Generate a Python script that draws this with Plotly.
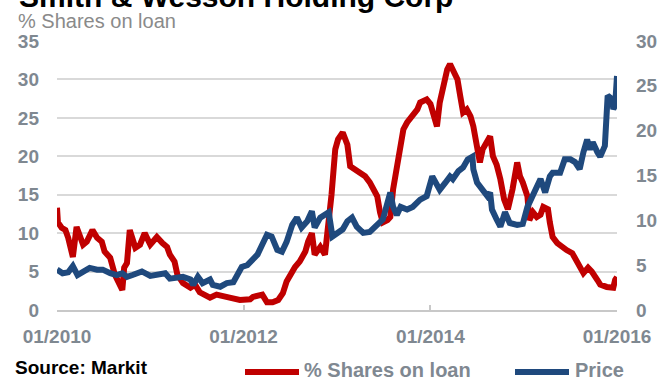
import plotly.graph_objects as go
import pandas as pd

# ---- data ----
loan_t = [2010.00, 2010.01, 2010.05, 2010.09, 2010.12, 2010.17, 2010.21, 2010.25, 2010.28, 2010.32,
          2010.38, 2010.43, 2010.48, 2010.51, 2010.57, 2010.62, 2010.65, 2010.70, 2010.72, 2010.75,
          2010.78, 2010.84, 2010.89, 2010.94, 2011.00, 2011.07, 2011.13, 2011.18, 2011.21, 2011.26,
          2011.29, 2011.35, 2011.43, 2011.48, 2011.53, 2011.64, 2011.71, 2011.78, 2011.85, 2011.96,
          2012.07, 2012.10, 2012.20, 2012.25, 2012.31, 2012.37, 2012.42, 2012.46, 2012.50, 2012.55,
          2012.60, 2012.66, 2012.69, 2012.73, 2012.76, 2012.82, 2012.87, 2012.90, 2012.94, 2012.98,
          2013.01, 2013.06, 2013.11, 2013.14, 2013.19, 2013.25, 2013.30, 2013.35, 2013.43, 2013.46,
          2013.49, 2013.54, 2013.57, 2013.60, 2013.64, 2013.68, 2013.71, 2013.75, 2013.81, 2013.86,
          2013.89, 2013.96, 2014.00, 2014.03, 2014.07, 2014.10, 2014.15, 2014.18, 2014.21, 2014.24,
          2014.29, 2014.32, 2014.35, 2014.39, 2014.43, 2014.46, 2014.50, 2014.53, 2014.56, 2014.61,
          2014.64, 2014.67, 2014.71, 2014.75, 2014.79, 2014.83, 2014.88, 2014.93, 2014.96, 2014.99,
          2015.04, 2015.06, 2015.10, 2015.14, 2015.18, 2015.21, 2015.26, 2015.28, 2015.31, 2015.36,
          2015.41, 2015.46, 2015.52, 2015.55, 2015.60, 2015.64, 2015.69, 2015.73, 2015.79, 2015.82,
          2015.89, 2015.96, 2015.98, 2016.00]
loan_pct = [13.3, 11.4, 10.7, 10.4, 9.4, 6.9, 10.8, 9.4, 8.5, 8.9,
            10.4, 9.4, 8.9, 7.6, 6.8, 4.6, 3.7, 2.6, 5.5, 6.1,
            10.4, 8.1, 8.5, 10.0, 8.5, 9.5, 8.7, 8.2, 7.2, 6.3,
            4.6, 3.5, 2.9, 3.3, 2.3, 1.6, 2.0, 1.7, 1.6, 1.3,
            1.4, 1.7, 2.0, 1.0, 1.0, 1.3, 2.2, 3.7, 4.6, 5.6,
            6.3, 7.6, 8.9, 10.0, 7.2, 8.2, 7.2, 10.2, 15.0, 20.9,
            22.2, 23.1, 21.5, 18.7, 18.3, 18.0, 17.4, 16.6, 14.8, 12.7,
            11.4, 11.7, 12.1, 15.7, 18.9, 21.8, 23.5, 24.4, 25.2, 26.1,
            27.0, 27.4, 26.8, 25.7, 23.9, 27.0, 29.8, 31.3, 32.0, 31.3,
            30.0, 27.8, 25.7, 26.1, 25.2, 23.9, 21.3, 19.2, 20.9, 22.2,
            22.6, 20.0, 18.9, 17.0, 14.4, 13.1, 15.7, 19.2, 17.4, 16.6,
            14.8, 11.7, 12.7, 12.1, 12.4, 13.4, 13.1, 11.4, 9.5, 8.7,
            8.2, 7.8, 7.4, 6.8, 5.6, 4.8, 5.5, 5.0, 3.9, 3.3,
            3.0, 2.9, 3.9, 4.3]

price_t = [2010.00, 2010.06, 2010.12, 2010.17, 2010.22, 2010.28, 2010.35, 2010.43, 2010.49, 2010.57,
           2010.64, 2010.70, 2010.75, 2010.81, 2010.91, 2011.00, 2011.07, 2011.16, 2011.21, 2011.29,
           2011.35, 2011.43, 2011.46, 2011.51, 2011.56, 2011.64, 2011.67, 2011.75, 2011.82, 2011.89,
           2011.93, 2011.98, 2012.04, 2012.10, 2012.15, 2012.20, 2012.25, 2012.30, 2012.36, 2012.41,
           2012.46, 2012.52, 2012.57, 2012.62, 2012.68, 2012.73, 2012.76, 2012.82, 2012.87, 2012.91,
           2012.95, 2013.00, 2013.06, 2013.11, 2013.16, 2013.21, 2013.28, 2013.35, 2013.43, 2013.49,
           2013.57, 2013.60, 2013.64, 2013.68, 2013.75, 2013.81, 2013.89, 2013.96, 2014.02, 2014.05,
           2014.10, 2014.16, 2014.21, 2014.24, 2014.30, 2014.35, 2014.40, 2014.45, 2014.46, 2014.50,
           2014.55, 2014.61, 2014.64, 2014.66, 2014.71, 2014.75, 2014.80, 2014.85, 2014.93, 2014.99,
           2015.04, 2015.09, 2015.14, 2015.18, 2015.23, 2015.28, 2015.31, 2015.39, 2015.44, 2015.50,
           2015.55, 2015.60, 2015.64, 2015.68, 2015.71, 2015.74, 2015.79, 2015.82, 2015.87, 2015.90,
           2015.95, 2015.96, 2015.98, 2016.00]
price = [4.5, 4.1, 4.2, 4.9, 3.9, 4.3, 4.7, 4.5, 4.5, 4.1,
         3.9, 4.1, 3.7, 3.9, 4.3, 3.8, 3.9, 4.1, 3.5, 3.7,
         3.7, 3.4, 2.8, 3.7, 3.0, 3.4, 2.8, 2.6, 3.0, 3.1,
         3.9, 4.8, 5.0, 5.8, 6.2, 7.3, 8.4, 8.2, 6.7, 6.5,
         7.6, 9.5, 10.3, 9.2, 9.9, 11.0, 9.2, 10.3, 10.6, 10.9,
         8.2, 8.6, 9.0, 9.9, 10.3, 9.3, 8.6, 8.7, 9.5, 10.1,
         13.1, 11.5, 10.6, 11.5, 11.2, 11.5, 12.3, 12.7, 14.9, 14.2,
         13.4, 14.2, 14.9, 14.6, 15.5, 15.9, 16.8, 17.1, 15.7, 14.2,
         13.4, 12.7, 13.1, 11.2, 10.1, 9.3, 10.9, 9.7, 9.5, 9.6,
         11.5, 12.7, 13.8, 14.6, 13.1, 14.9, 15.3, 15.3, 16.8, 16.8,
         16.5, 15.7, 17.6, 19.0, 17.9, 18.7, 17.6, 17.1, 18.3, 23.9,
         23.5, 22.4, 22.8, 26.1]

x_ticks = ["2010-01-01", "2012-01-01", "2014-01-01", "2016-01-01"]
x_tick_labels = ["01/2010", "01/2012", "01/2014", "01/2016"]
left_ticks = [0, 5, 10, 15, 20, 25, 30, 35]
right_ticks = [0, 5, 10, 15, 20, 25, 30]

title_text = "Smith & Wesson Holding Corp"
subtitle_text = "% Shares on loan"
source_text = "Source: Markit"
loan_name = "% Shares on loan"
price_name = "Price"


def to_dates(years):
    out = []
    for y in years:
        yr = int(y)
        start = pd.Timestamp(year=yr, month=1, day=1)
        end = pd.Timestamp(year=yr + 1, month=1, day=1)
        out.append(start + (end - start) * (y - yr))
    return out


RED = "#c00000"
BLUE = "#1f497d"
GRAY = "#7f8891"
FONT = "Liberation Sans, Arial, sans-serif"

W, H = 659, 379
L, R, T, B = 57, 42, 41, 69
PW, PH = W - L - R, H - T - B


def px(x):
    return (x - L) / PW


def py(y):
    return (H - B - y) / PH


fig = go.Figure()
fig.add_trace(go.Scatter(x=to_dates(loan_t), y=loan_pct, mode="lines", name=loan_name,
                         line=dict(color=RED, width=6), yaxis="y", showlegend=False))
fig.add_trace(go.Scatter(x=to_dates(price_t), y=price, mode="lines", name=price_name,
                         line=dict(color=BLUE, width=6), yaxis="y2", showlegend=False))

tickfont = dict(family=FONT, size=19, color=GRAY, weight="bold")

fig.update_layout(
    width=W, height=H,
    margin=dict(l=L, r=R, t=T, b=B, pad=0, autoexpand=False),
    paper_bgcolor="white", plot_bgcolor="white",
    showlegend=False,
    xaxis=dict(
        type="date", range=["2010-01-01", "2016-01-01"],
        tickvals=x_ticks, ticktext=x_tick_labels,
        showgrid=False, zeroline=False, automargin=False,
        showline=True, linecolor="#c8c8c8", linewidth=1.5,
        ticks="inside", ticklen=5, tickcolor="#c8c8c8", tickwidth=1.5,
        tickfont=tickfont, ticklabelstandoff=8,
    ),
    yaxis=dict(
        range=[0, 35], tickvals=left_ticks, automargin=False,
        showgrid=True, gridcolor="#d9d9d9", gridwidth=1.5,
        zeroline=False, showline=False, ticks="",
        tickfont=tickfont, ticklabelstandoff=17,
    ),
    yaxis2=dict(
        range=[0, 30], tickvals=right_ticks, overlaying="y", side="right",
        showgrid=False, zeroline=False, showline=False, ticks="", automargin=False,
        tickfont=tickfont, ticklabelstandoff=18,
    ),
)

annotations = [
    dict(text=title_text, xref="paper", yref="paper", x=px(17), y=py(-4),
         xanchor="left", yanchor="middle", showarrow=False,
         font=dict(family=FONT, size=30, color="black", weight="bold")),
    dict(text=subtitle_text, xref="paper", yref="paper", x=px(16), y=py(21),
         xanchor="left", yanchor="middle", showarrow=False,
         font=dict(family=FONT, size=20, color="#8a8a8a")),
    dict(text=source_text, xref="paper", yref="paper", x=px(13), y=py(367),
         xanchor="left", yanchor="middle", showarrow=False,
         font=dict(family=FONT, size=19, color="black", weight="bold")),
    dict(text=loan_name, xref="paper", yref="paper", x=px(302), y=py(370),
         xanchor="left", yanchor="middle", showarrow=False,
         font=dict(family=FONT, size=20, color=GRAY, weight="bold")),
    dict(text=price_name, xref="paper", yref="paper", x=px(573), y=py(370),
         xanchor="left", yanchor="middle", showarrow=False,
         font=dict(family=FONT, size=20, color=GRAY, weight="bold")),
]
shapes = [
    dict(type="line", xref="paper", yref="paper", x0=px(245), x1=px(299), y0=py(372), y1=py(372),
         line=dict(color=RED, width=6)),
    dict(type="line", xref="paper", yref="paper", x0=px(515), x1=px(569), y0=py(372), y1=py(372),
         line=dict(color=BLUE, width=6)),
]
fig.update_layout(annotations=annotations, shapes=shapes)

fig.write_html("out.html")
